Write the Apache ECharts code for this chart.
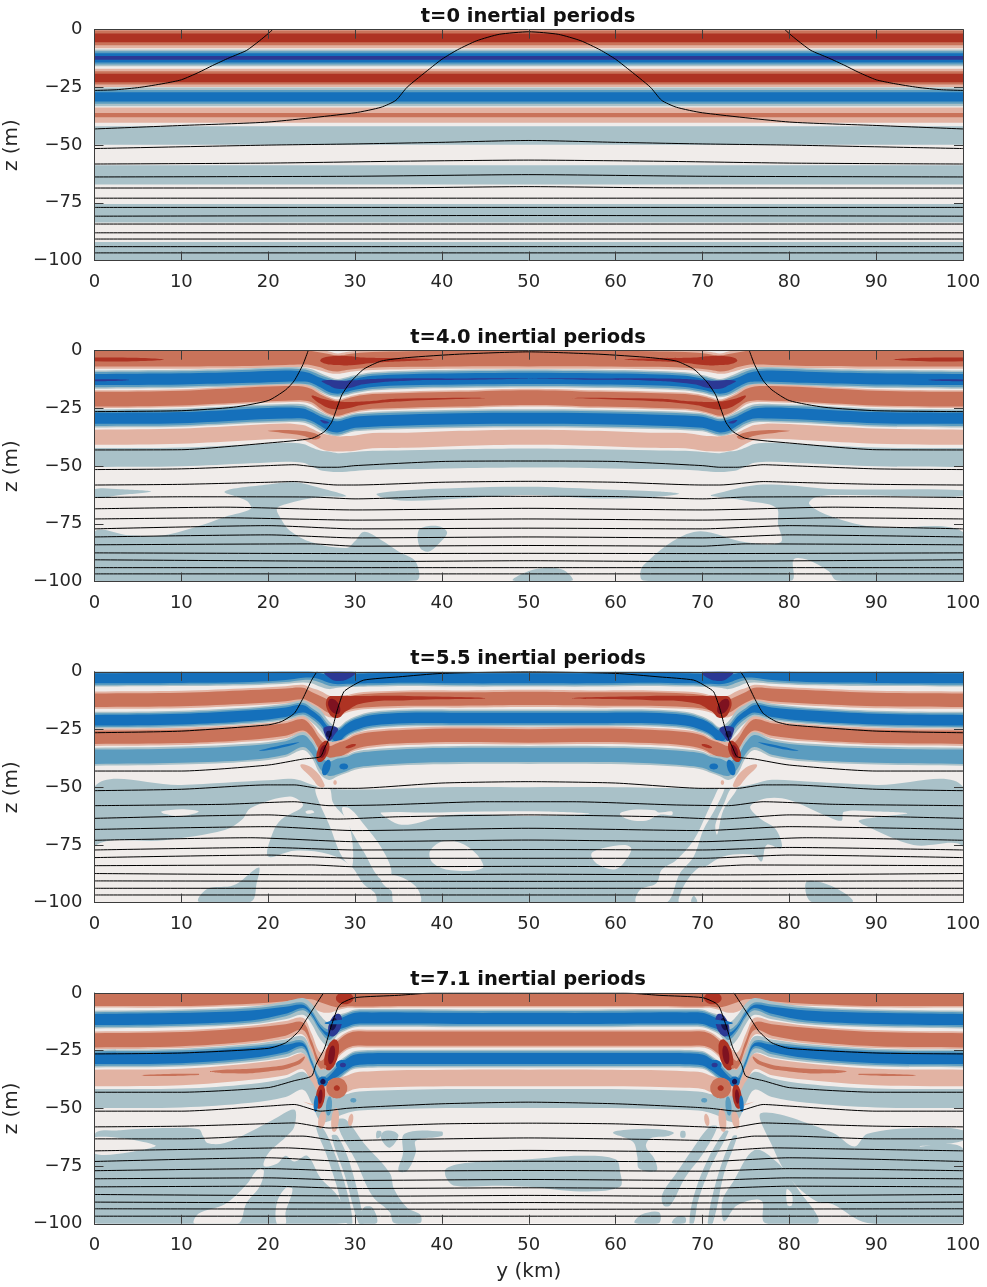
<!DOCTYPE html>
<html><head><meta charset="utf-8">
<style>html,body{margin:0;padding:0;background:#fff}#c{width:987px;height:1287px}</style>
<script src="https://cdn.jsdelivr.net/npm/echarts@6/dist/echarts.min.js"></script>
</head><body><div id="c"></div>
<script>
const titles=['t=0 inertial periods','t=4.0 inertial periods','t=5.5 inertial periods','t=7.1 inertial periods'];
const xTicks=[0,10,20,30,40,50,60,70,80,90,100];
const zTicks=[-100,-75,-50,-25,0];
const palette={n:'#f0ecea',r1:'#e2b3a3',r2:'#c9735a',r3:'#ae3323',r4:'#7e1220',b1:'#a9c1c8',b2:'#5b9cbf',b3:'#1570bb',b4:'#2b3894',b5:'#161450'};
// left-half knots (km); right half of the front structure mirrors them about y=50
const knots=[0,10,18,22,24,25,26,27,28,29,30,32,36,42,50];
const flatKnots=[0,50];

// ---- t=0 ----
const p1Bands=[
 {s:'r',c:[-3.5,-3.5],hw:[4.5,3.2,1.9]},
 {s:'b',c:[-12.2,-12.2],hw:[3.6,2.9,2,0.8]},
 {s:'r',c:[-20.9,-20.9],hw:[3.95,2.85,1.85]},
 {s:'b',c:[-29.1,-29.1],hw:[4.05,3,2]},
 {s:'r',c:[-37,-37],hw:[3.3,0.9]},
 {s:'b',c:[-45.8,-45.8],hw:[4]},
 {s:'b',c:[-62.9,-62.9],hw:[4.2]},
 {s:'b',c:[-79.5,-79.5],hw:[4]},
 {s:'b',c:[-96,-96],hw:[4]}];
const p1Lines=[
 [[0,-26.3],[2.5,-26],[5.2,-25],[8,-23.3],[10,-21.7],[12,-18.5],[13.6,-15.5],[15.5,-12.2],[17.5,-9],[19,-4.8],[20,-1.7],[20.5,0]],
 [[0,-43],[10,-41.5],[20,-40],[30,-36],[33,-33.6],[34.7,-30.6],[36,-24.9],[38.6,-16.9],[40,-12.8],[41.8,-8.7],[44,-4.8],[46.6,-2],[50,-0.9]],
 [[0,-51.5],[20,-50],[30,-49.5],[40,-48.8],[50,-48]],
 [[0,-58.2],[20,-57.8],[35,-57],[50,-56.5]],
 [[0,-63.8],[30,-63.5],[50,-62.8]],
 [[0,-68.6],[35,-68.5],[50,-68]],
 [[0,-73],[50,-73]],[[0,-77],[50,-77]],[[0,-80.8],[50,-80.5]],[[0,-84.2],[50,-84.2]],
 [[0,-88],[50,-88]],[[0,-90.7],[50,-90.7]],[[0,-94],[50,-94]],[[0,-96.7],[50,-96.7]]];

// ---- t=4.0 ----
const p2Scale=[1,1,1,1,1,1,1.05,1.05,1,1,1,1,1,1,1];
const p2Fade=[1,1,1,1,.95,.9,.9,1,1,1,1,1,1,1,1];
const p2Bands=[
 {s:'r',c:[-3.4,-3.4,-3.2,-2.8,-2.8,-3.2,-4,-5,-5.6,-5,-4.5,-4,-3.6,-3.4,-3.4],hw:[4.4,3.4]},
 {s:'b',c:[-12.5,-12.2,-11.5,-11,-11.2,-12,-13.8,-15.4,-16.2,-15.5,-14.5,-13.3,-12.6,-12.2,-12],hw:[3.95,3.3,2.4]},
 {s:'r',c:[-21,-20.5,-19,-18.5,-18.5,-19.5,-22,-24,-25,-24,-23,-22,-21.5,-21,-20.3],hw:[3.85,3.2]},
 {s:'b',c:[-29.3,-29,-27.5,-27,-27.2,-28.5,-30.5,-32.3,-33,-32,-31,-30.5,-30,-29.5,-29.3],hw:[3.95,3.3,2.4]},
 {s:'r',c:[-37.5,-37,-35.5,-34.8,-35.5,-37,-39,-40,-40.4,-40.3,-40,-39,-38.8,-38,-37.5],hw:[3.3]},
 {s:'b',c:[-46.3,-46,-44.7,-44,-44.5,-46,-47.5,-48,-48.5,-48.3,-48,-47.5,-47.2,-46.8,-46.5],hw:[4.1]}];
const p2Deep=[
 ['b1',[[0,-60],[3,-60],[6.5,-61],[3,-62.5],[0,-63.5]]],
 ['b1',[[0,-78.5],[4,-80],[8,-80],[12,-76],[15,-72],[18,-68.5],[17.5,-65],[15,-61],[20,-58],[23,-57],[26,-59.5],[29,-63],[26,-63.3],[22,-66.5],[21,-68.5],[21.5,-73],[22.5,-78],[25,-83],[29,-85.5],[30,-82.5],[31,-78.5],[33,-82],[35,-87],[37,-91.5],[37,-99.6],[0,-99.6]]],
 ['b1',[[37.3,-78],[38.5,-76],[40,-76.5],[40.6,-79],[39.8,-83],[38.5,-87],[37.5,-85.5]]],
 ['b1',[[32.5,-62],[36,-60.5],[42,-59.5],[50,-59],[58,-60],[65,-61],[67.3,-62],[64,-63.5],[58,-64],[50,-62.5],[42,-64],[36,-65],[33,-63.5]]],
 ['b1',[[71,-62.5],[77,-58],[85.5,-60],[100,-60.5],[100,-63],[94,-63],[86,-62.5],[83,-63.5],[82.3,-66.5],[85,-72],[90,-76.5],[100,-78.5],[100,-99.6],[85.5,-99.6],[84.5,-95.5],[82,-90.5],[80.5,-90.5],[80.2,-99.6],[63.2,-99.6],[63.2,-93],[69,-78.5],[75,-83],[79,-83],[78.7,-75],[78.5,-68],[75,-65],[71,-63]]],
 ['b1',[[48.2,-99.6],[50,-95.5],[52,-94.2],[54,-95],[55,-99.6]]]];
const p2Patches=[
 ['r3',[[0,-3],[8,-3.8],[0,-4.6]]],
 ['r3',[[26,-4],[27,-2.5],[29,-2.3],[31,-3],[35,-3.3],[39,-3.8],[36,-4.5],[32,-5.3],[29.5,-6.3],[28,-6.2],[26.5,-5.5]]],
 ['b4',[[26.2,-13],[29,-13],[33,-12.2],[42,-12],[50,-12],[42,-12.6],[36,-13],[31,-14.5],[29.5,-16],[28,-16.5],[27,-15]]],
 ['b4',[[0,-12.5],[4,-12.7],[0,-13.2]]],
 ['r3',[[25,-19.5],[26.5,-21],[28,-22],[31,-22],[35,-20.8],[45,-20.5],[36,-21.8],[31,-23.4],[29,-25],[27.5,-25.3],[26,-23]]],
 ['b4',[[26,-30],[27,-31],[26.5,-31.5]]],
 ['r2',[[20,-34.7],[24,-34.8],[26,-37],[25.5,-38.5],[24,-36.8],[21.5,-35.5]]]];
const p2Lines=[
 [[0,-26.4],[10,-26],[16,-24.5],[20,-21.6],[22,-17],[23,-13],[24,-6],[24.6,0]],
 [[0,-43],[10,-42.9],[20,-40],[25,-38],[26.5,-35],[27.3,-31],[28,-24],[28.5,-19],[29.5,-13.5],[31,-8],[33,-4.5],[36,-3],[42,-1.5],[50,-0.5]],
 [[0,-51.5],[10,-51.2],[20,-49.8],[23,-49.4],[26,-50.5],[28,-50.5],[30,-49.8],[40,-48],[50,-47.8]],
 [[0,-58.2],[10,-57.9],[20,-57],[23,-56.7],[28,-58.2],[30,-58.2],[40,-57],[50,-56.6]],
 [[0,-63.6],[10,-63.3],[25,-63.4],[30,-64.2],[40,-63.2],[50,-63.1]],
 [[0,-68.5],[15,-67.8],[30,-69],[50,-68.3]],
 [[0,-72.9],[15,-72.4],[30,-73.4],[50,-72.9]],
 [[0,-77.2],[20,-75.8],[30,-77.2],[50,-76.9]],
 [[0,-80.7],[20,-79.8],[30,-81.1],[50,-80.7]],
 [[0,-84.1],[25,-83.7],[30,-84.7],[50,-84.4]],
 [[0,-87.6],[30,-87.9],[50,-87.8]],
 [[0,-90.6],[35,-91.3],[50,-91]],
 [[0,-94],[50,-94]],
 [[0,-96.7],[50,-96.7]]];

// ---- t=5.5 ----
const p3Scale=[1,1,1,1,1,1.05,1.25,1.25,1.1,1,1,1,1,1,1];
const p3Fade=[1,1,1,.95,.85,.75,.7,.8,1,1,1,1,1,1,1];
const p3Bands=[
 {s:'b',c:[-2.8,-2.6,-2.2,-1.6,-1,-1.2,-2,-3,-3,-3,-3,-2.8,-2.5,-2.8,-2.8],hw:[3.6,3,2.2]},
 {s:'r',c:[-12.3,-12,-10.8,-10,-9.4,-11,-13,-15,-15.5,-14,-13,-12.3,-11.8,-11.8,-11.5],hw:[3.75,2.9]},
 {s:'b',c:[-21,-20.5,-19,-17.5,-16,-18,-21,-26,-28,-25,-23,-21,-20,-20,-20],hw:[3.65,3,2.3]},
 {s:'r',c:[-28.4,-28,-26.5,-25,-23,-26,-32,-35,-34,-32.5,-30.5,-29,-28,-27.5,-27.8],hw:[3.75,2.9]},
 {s:'b',c:[-36.8,-36.3,-35,-33,-30,-33,-39.5,-42,-41,-40,-38.5,-37.5,-36.5,-36,-36],hw:[3.9,3.1]}];
const p3Deep=[
 ['b1',[[0,-49.8],[10,-49],[20,-47],[23,-46.5],[26,-50],[30,-51],[40,-50],[50,-50],[60,-50],[70,-50.5],[74,-50],[76,-48.5],[78,-46.8],[82,-47.5],[90,-49],[100,-49.8],[100,-99.6],[0,-99.6]]],
 ['n',[[0,-75.8],[8,-73],[15,-68.5],[17,-64],[18,-59],[22.5,-54],[24,-58],[21.5,-64],[20.5,-70],[20,-80],[23,-77.5],[27,-79],[29.5,-84],[31,-92],[32.3,-96],[32.3,-100],[0,-100]]],
 ['n',[[25.5,-50],[27,-50],[27.5,-57],[29.3,-66],[29.7,-84],[28.5,-80],[27,-66],[25.7,-55]]],
 ['n',[[28.5,-59],[29.5,-59.5],[31,-66],[33,-76],[34.2,-87],[33,-90],[31,-78],[29.2,-66]]],
 ['n',[[33,-90],[34.5,-88],[37,-93],[37.5,-100],[34.5,-100],[34.2,-95],[33.5,-93]]],
 ['b1',[[12,-99.6],[13,-94],[16,-92.5],[18.5,-85.5],[19,-85],[18.7,-91],[18,-99.6]]],
 ['n',[[7.7,-60.5],[10,-59.5],[12,-60.5],[10,-62.5],[8,-61.5]]],
 ['n',[[24.3,-60.5],[25,-60],[25.3,-61],[24.5,-61.5]]],
 ['n',[[38.6,-78],[40,-73.5],[42,-74],[44,-79],[44.7,-85],[41,-86],[39,-83]]],
 ['n',[[33,-61],[38,-61],[45,-60.5],[52,-60.5],[57,-61.5],[50,-62.5],[41,-62],[36.5,-66],[35,-66],[33.5,-63]]],
 ['n',[[60.5,-61.5],[62,-59.8],[64.5,-60],[65,-61],[66.5,-60.5],[66.5,-62],[65,-62],[63.5,-64.5],[61.5,-64]]],
 ['n',[[57.2,-79],[58.5,-76.5],[61,-75],[61.8,-76.5],[61.3,-81],[60,-85.5],[58,-83.5]]],
 ['n',[[67.4,-100],[67.4,-96.7],[68.3,-90],[69.7,-84.5],[70.3,-84.4],[72.4,-80],[75.9,-79.3],[76.8,-82.2],[77.4,-75],[79.1,-76.5],[78.5,-68.5],[76.6,-63.5],[75.5,-58.4],[77.4,-54.8],[80,-55.5],[84,-62],[86,-64.5],[86.3,-60.6],[90,-60.5],[93.6,-61.3],[90,-63],[88,-64.5],[88.6,-66.4],[94.3,-75],[100,-75.8],[100,-100]]],
 ['n',[[72,-49.8],[72.6,-49.8],[71.4,-59.9],[70.1,-68.5],[69,-80],[67.4,-87.3],[65.9,-100],[62.4,-100],[62.8,-94.5],[64.7,-91.6],[65.3,-85.8],[67,-81.5],[69,-72.9],[70.5,-61.3],[71.4,-54]]],
 ['n',[[73.3,-50.5],[74,-50.5],[72.4,-60],[71.7,-70.5],[71.5,-66],[72.5,-57]]],
 ['b1',[[82,-91],[85,-93],[87.3,-99.6],[82.5,-99.6]]],
 ['b1',[[68.7,-99.6],[69,-97],[69.4,-99.6]]]];
const p3Patches=[
 ['b4',[[26.5,0],[30,0],[29.5,-2.5],[28,-4],[27,-2.5]]],
 ['r3',[[26.8,-11.5],[28,-10.5],[30,-10.5],[36,-10.5],[45,-11.5],[36,-12.3],[31,-13.5],[29,-17],[28,-20],[27,-18]]],
 ['b4',[[26.5,-24],[28,-24.5],[27.5,-28],[27,-30],[26.5,-27]]],
 ['b3',[[19,-34],[23.5,-30.5],[22,-32.5],[19.5,-34.2]]],
 ['r1',[[23.7,-40.5],[25,-41.5],[26.5,-49],[26,-50],[25,-46]]]];
const p3Blobs=[[27.6,-15,.7,3,-2,'r4'],[27,-27,.35,1.5,0,'b5'],[26.3,-34.5,.75,4,3,'r3'],[26.3,-34.5,.4,2.5,3,'r4'],[29.5,-32.2,.6,.7,1,'r3'],[26.7,-41.5,.5,3,3,'b3'],[28.7,-41,.5,1.3,0,'b3'],[27.7,-48,.2,1,0,'r1']];
const p3Lines=[
 [[0,-26.4],[10,-25.7],[20,-23],[21.5,-21.6],[23,-18],[24,-11.5],[25,-3.6],[25.6,0]],
 [[0,-43],[10,-43],[20,-40.4],[24,-37.8],[26,-36.8],[26.5,-33],[27,-29],[27.5,-23],[28,-16],[28.7,-8.7],[29.5,-6.5],[31,-3.6],[35,-2.2],[40,-0.7],[50,0]],
 [[0,-51.5],[10,-50.9],[20,-49],[23,-49],[26,-50.5],[30,-50.5],[40,-48.2],[50,-47.6]],
 [[0,-58],[15,-57.4],[23,-56.3],[27,-58],[33,-57.7],[45,-56.3],[50,-56.3]],
 [[0,-63.5],[20,-62],[28,-63.8],[35,-62.8],[50,-62]],
 [[0,-68.3],[20,-67.1],[30,-68.8],[50,-67.8]],
 [[0,-73],[18,-71.9],[30,-73.6],[50,-72.9]],
 [[0,-77.2],[20,-76.1],[30,-77.2],[50,-77]],
 [[0,-80.5],[20,-79.4],[30,-80.8],[50,-80.8]],
 [[0,-84],[25,-83.7],[30,-84.5],[50,-84.3]],
 [[0,-87.4],[28,-88],[50,-87.7]],
 [[0,-90.6],[50,-90.8]],
 [[0,-93.8],[50,-93.8]],
 [[0,-96.7],[50,-96.7]]];

// ---- t=7.1 ----
const p4Scale=[1,1,1,1,.95,1.15,1.35,1.35,1.1,1,1,1,1,1,1];
const p4Fade=[1,1,.95,.8,.55,.4,.4,.55,.9,1,1,1,1,1,1];
const p4Bands=[
 {s:'r',c:[-1.8,-1.8,-1,-.5,-.5,-1,-2,-2.5,-2.5,-2,-2,-2,-1.8,-1.8,-1.8],hw:[4.5,3.8]},
 {s:'b',c:[-11.5,-11,-9.7,-7.5,-5.8,-9,-15,-18,-14,-12.3,-11,-10.8,-10.8,-11,-11],hw:[3.85,3.2,2.4]},
 {s:'r',c:[-20.5,-20,-18,-16,-14.4,-22,-31,-28,-24,-21,-19.8,-19.8,-19.8,-19.8,-19.8],hw:[3.85,3.1]},
 {s:'b',c:[-28.4,-28,-26,-24,-22.4,-30,-38.4,-37,-34,-31,-29,-28.5,-28.4,-28.4,-28.4],hw:[3.85,3.2,2.4]},
 {s:'r',c:[-36.8,-36.4,-34,-32,-29.6,-36,-45,-43,-41,-39.5,-38,-37.5,-37,-36.8,-36.8],hw:[3.6]},
 {s:'b',c:[-45.7,-45.5,-43.5,-41,-38,-43,-50,-50,-49,-48,-47,-46.5,-46,-45.7,-45.7],hw:[4.1]}];
const p4Deep=[
 ['b1',[[0,-61.5],[3,-59.5],[8,-58.5],[12,-59],[12.5,-62],[13,-65],[15,-65],[18,-60],[20.5,-55],[23,-50.5],[23,-58],[22,-62.5],[20,-69.5],[19.5,-75],[21,-74],[22,-70.5],[23,-73],[24.5,-70.5],[26,-80],[28,-88],[29,-99.6],[0,-99.6]]],
 ['n',[[0,-62.5],[7,-66],[4,-69],[0,-69.5]]],
 ['n',[[11.5,-100],[12,-95.5],[15,-91.5],[17.5,-83],[18.8,-76.5],[19.5,-77],[19,-84],[17.5,-91],[16.5,-100]]],
 ['n',[[21,-100],[21,-91],[22,-84.5],[22.8,-85],[22,-95],[22,-100]]],
 ['b1',[[25.5,-58],[26.2,-58],[27.5,-68],[29,-85],[29.7,-99.6],[29,-99.6],[28,-85],[26.7,-70]]],
 ['b1',[[27.3,-62],[28,-62],[29.5,-75],[31,-99.6],[30.4,-99.6],[28.9,-80]]],
 ['b1',[[28,-55],[29,-55],[31,-65],[34,-78],[34.5,-85],[36,-93],[37.5,-96],[37.5,-99.6],[34.5,-99.6],[34,-95],[32,-88],[30,-72],[28.5,-62]]],
 ['b1',[[30.5,-99.6],[31,-93],[32,-93],[32.5,-99.6]]],
 ['b1',[[32.5,-60],[33,-60],[33,-62],[32.5,-63]]],
 ['b1',[[33.3,-60],[34.5,-60],[35,-62],[34,-67],[33,-63]]],
 ['b1',[[35.7,-61],[40,-60],[40,-62],[37,-64],[37,-69],[36,-77],[35,-77],[35.5,-70]]],
 ['b1',[[40.5,-76],[43,-73.5],[50,-72],[56,-70.5],[60,-72],[60.5,-77],[60.5,-84],[56,-86],[50,-84],[46,-83.5],[41.5,-83.5],[40.5,-80]]],
 ['b1',[[59.7,-60.5],[62,-59],[65,-59],[66.7,-60.5],[66,-62],[64,-63],[63.5,-66.5],[64.5,-72],[64.7,-77],[62.7,-76],[62.5,-71],[62,-64.5]]],
 ['b1',[[67.5,-60],[68,-60],[68,-62.5],[67.5,-62.5]]],
 ['b1',[[70.8,-58],[71.7,-58],[70,-70],[68,-80],[66.3,-92],[65.5,-92],[65.4,-87],[67,-78],[68.8,-68]]],
 ['b1',[[72.5,-60],[73,-60],[71,-75],[69.5,-90],[69,-99.6],[68.5,-99.6],[69,-88],[70.5,-73]]],
 ['b1',[[73.5,-62],[74,-62],[72.5,-78],[71.2,-99.6],[70.6,-99.6],[71.7,-80]]],
 ['b1',[[62.2,-99.6],[63,-96],[65,-95],[65,-99.6]]],
 ['b1',[[66.5,-99.6],[67,-97],[68,-97],[68,-99.6]]],
 ['b1',[[76.8,-52],[85,-60.5],[87.5,-66.5],[89,-61],[95,-58.5],[100,-59.5],[100,-64],[95,-66.5],[100,-67.5],[100,-99.6],[89,-99.6],[85,-91.5],[83,-90],[80,-80],[78,-66]]],
 ['b1',[[76,-68],[78.5,-73],[81,-85],[83.3,-99.6],[77.2,-99.6],[76.8,-90],[74,-92],[72.5,-99],[72.3,-90],[73.5,-82]]],
 ['n',[[79.7,-85],[80.3,-87],[80.3,-92],[79.8,-92]]]];
const p4Patches=[
 ['r2',[[13.5,-33.8],[20,-32.2],[23,-30],[24.2,-27.5],[23.5,-31],[20,-34],[15,-34.8]]],
 ['r2',[[5.5,-35.5],[12,-35],[12,-35.5],[6,-36]]],
 ['r1',[[24,-47],[25,-48],[26.2,-49],[25.5,-49]]]];
const p4Blobs=[
 [28.8,-2.3,1,2.6,0,'r3'],[27.7,-13.9,.8,4.5,2.5,'b4'],[27.5,-13.5,.4,2.5,2.5,'b5'],[28.5,-12.5,2,.9,.3,'b3'],
 [27.3,-26.8,.85,6,3.5,'r3'],[27.3,-26.8,.4,3.8,3.5,'r4'],[28.6,-31.2,.8,2.2,0,'b3'],[28.6,-31.2,.35,1,0,'b4'],
 [26.3,-38.4,.6,2.2,0,'b3'],[26.3,-38.4,.3,1.2,0,'b5'],[27.9,-41.2,1.2,4.5,0,'r2'],[27.9,-41.2,.35,1.2,0,'r3'],
 [26,-44.9,.55,5,3,'r3'],[26,-44.9,.25,3,3,'r4'],[25.5,-48,.25,3.5,3,'b3'],[27,-49,.35,4,3,'b2'],
 [26.2,-55,.45,3.5,3,'r1'],[27.7,-55,.45,5,3,'r1'],[29.5,-55,.3,2.5,3,'r1'],[29.8,-46.5,.35,1,0,'b2'],
 [26,-3,.3,.6,0,'r2'],[26.5,-32,.2,.8,0,'r2']];
const p4Lines=[
 [[0,-26.4],[10,-26],[20,-24],[22,-21.6],[23.5,-16.6],[24.5,-10.8],[25.5,-5],[26.3,-0.4],[26.4,0]],
 [[0,-43],[10,-43],[20,-41],[23,-38],[25,-36],[25.5,-31],[26.5,-23.8],[27.2,-15],[28,-6.5],[28.5,-4.3],[30,-2],[35,-1],[39,0],[50,0]],
 [[0,-51.2],[10,-51.2],[20,-49],[23,-48.3],[26,-51.2],[29,-50],[31,-49.5],[40,-48],[50,-47.3]],
 [[0,-58],[10,-57.7],[20,-56.6],[23,-56.3],[27,-58.5],[30,-58],[40,-56.7],[50,-56.4]],
 [[0,-63.2],[10,-63.2],[20,-62],[24,-62],[28,-64],[35,-63.5],[50,-62.8]],
 [[0,-68.4],[15,-67.5],[22,-67.1],[30,-68.8],[50,-68.2]],
 [[0,-73],[20,-71.4],[30,-73.1],[50,-72.9]],
 [[0,-77],[20,-76.1],[30,-77.2],[50,-76.9]],
 [[0,-80.5],[20,-80.1],[30,-81.2],[50,-80.8]],
 [[0,-84],[20,-83.7],[30,-84.7],[50,-84.4]],
 [[0,-87.3],[35,-88],[50,-87.7]],
 [[0,-90.6],[35,-91],[50,-90.8]],
 [[0,-93.5],[50,-93.7]],
 [[0,-96.7],[50,-96.7]]];

const tops=[29.7,350.7,671.8,993];
const plotH=230.8;

function mirrorPts(pts){return pts.map(p=>[100-p[0],p[1]]);}
function bandLayers(kn,bands,scale,fade){
  const out=[];
  const ys=[-4].concat(kn,kn.slice(0,-1).map(k=>100-k).reverse(),[104]);
  const pick=a=>[a[0]].concat(a,a.slice(0,-1).slice().reverse(),[a[0]]);
  const sc=scale?pick(scale):ys.map(()=>1);
  const fd=fade?pick(fade):ys.map(()=>1);
  bands.forEach(b=>{
    const c=pick(b.c);
    b.hw.forEach((h,i)=>{
      const w=j=>h*sc[j]*Math.pow(fd[j],i);
      const top=ys.map((y,j)=>[y,c[j]+w(j)]);
      const bot=ys.map((y,j)=>[y,c[j]-w(j)]).reverse();
      out.push([b.s+(i+1),top.concat(bot),kn.length>2?.35:0]);
    });
  });
  return out;
}
function blobPts(b){
  const pts=[];
  [0,30,60,90,120,150,180,210,240,270,300,330].forEach(a=>{
    const r=a*Math.PI/180,dy=b[2]*Math.cos(r),dz=b[3]*Math.sin(r);
    pts.push([b[0]+dy,b[1]+dz+dy*b[4]]);
  });
  return pts;
}
function withMirror(list){
  const out=[];
  list.forEach(l=>{out.push([l[0],l[1],.5]);out.push([l[0],mirrorPts(l[1]),.5]);});
  return out;
}
const fullRect=[[0,0],[100,0],[100,-100],[0,-100]];
const panels=[
 {layers:[['n',fullRect,0]].concat(bandLayers(flatKnots,p1Bands)),lines:p1Lines},
 {layers:[['n',fullRect,0]].concat(p2Deep.map(d=>[d[0],d[1],.35]),bandLayers(knots,p2Bands,p2Scale,p2Fade),withMirror(p2Patches)),lines:p2Lines},
 {layers:[['n',fullRect,0]].concat(p3Deep.map(d=>[d[0],d[1],.35]),bandLayers(knots,p3Bands,p3Scale,p3Fade),withMirror(p3Patches),withMirror(p3Blobs.map(b=>[b[5],blobPts(b)]))),lines:p3Lines},
 {layers:[['n',fullRect,0]].concat(p4Deep.map(d=>[d[0],d[1],.35]),bandLayers(knots,p4Bands,p4Scale,p4Fade),withMirror(p4Patches),withMirror(p4Blobs.map(b=>[b[5],blobPts(b)]))),lines:p4Lines}
];

const labelStyle={color:'#262626',fontFamily:'DejaVu Sans',fontSize:18};
const nameStyle={color:'#262626',fontFamily:'DejaVu Sans',fontSize:20};
const axisLine={show:true,onZero:false,lineStyle:{color:'#3c3c3c',width:1}};
const tick=()=>({show:true,inside:true,length:9,lineStyle:{color:'#3c3c3c',width:1}});
const minus=v=>String(v).replace('-','\u2212');
const grid=[],xAxis=[],yAxis=[],series=[],title=[];
panels.forEach((p,i)=>{
  grid.push({left:94.5,width:868.5,top:tops[i],height:plotH,containLabel:false,outerBoundsMode:'none'});
  title.push({text:titles[i],left:528,textAlign:'center',top:tops[i]-23,padding:0,textStyle:{color:'#111',fontFamily:'DejaVu Sans',fontWeight:'bold',fontSize:19.5}});
  const xb={type:'value',gridIndex:i,min:0,max:100,interval:10,z:10,splitLine:{show:false},axisLine:axisLine};
  xAxis.push(Object.assign({},xb,{position:'bottom',axisTick:tick(),axisLabel:Object.assign({margin:13},labelStyle),
    name:i===3?'y (km)':'',nameLocation:'middle',nameGap:38,nameTextStyle:nameStyle}));
  xAxis.push(Object.assign({},xb,{position:'top',axisTick:tick(),axisLabel:{show:false}}));
  const yb={type:'value',gridIndex:i,min:-100,max:0,interval:25,z:10,splitLine:{show:false},axisLine:axisLine};
  yAxis.push(Object.assign({},yb,{position:'left',axisTick:tick(),axisLabel:Object.assign({margin:12,padding:[8,0,0,0],formatter:minus},labelStyle),
    name:'z (m)',nameLocation:'middle',nameGap:57,nameTextStyle:nameStyle}));
  yAxis.push(Object.assign({},yb,{position:'right',axisTick:tick(),axisLabel:{show:false}}));
  const layers=p.layers;
  series.push({type:'custom',xAxisIndex:i*2,yAxisIndex:i*2,clip:true,silent:true,animation:false,z:2,
    data:layers.map(l=>[l[1][0][0],l[1][0][1]]),
    renderItem:function(params,api){
      const l=layers[params.dataIndex];
      return {type:'polygon',shape:{points:l[1].map(pt=>api.coord(pt)),smooth:l[2]||0},style:{fill:palette[l[0]],stroke:null}};
    }});
  p.lines.forEach(line=>{
    const outcrop=line[line.length-1][1]===0&&line[line.length-1][0]<50;
    const draw=d=>series.push({type:'line',xAxisIndex:i*2,yAxisIndex:i*2,data:d,symbol:'none',smooth:.2,silent:true,animation:false,z:5,clip:true,lineStyle:{color:'#000',width:1}});
    if(outcrop){draw(line);draw(mirrorPts(line));}
    else{draw(line.concat(mirrorPts(line.slice(0,-1)).reverse()));}
  });
});
const chart=echarts.init(document.getElementById('c'),null,{renderer:'canvas'});
chart.setOption({animation:false,backgroundColor:'#fff',title,grid,xAxis,yAxis,series});
</script></body></html>
